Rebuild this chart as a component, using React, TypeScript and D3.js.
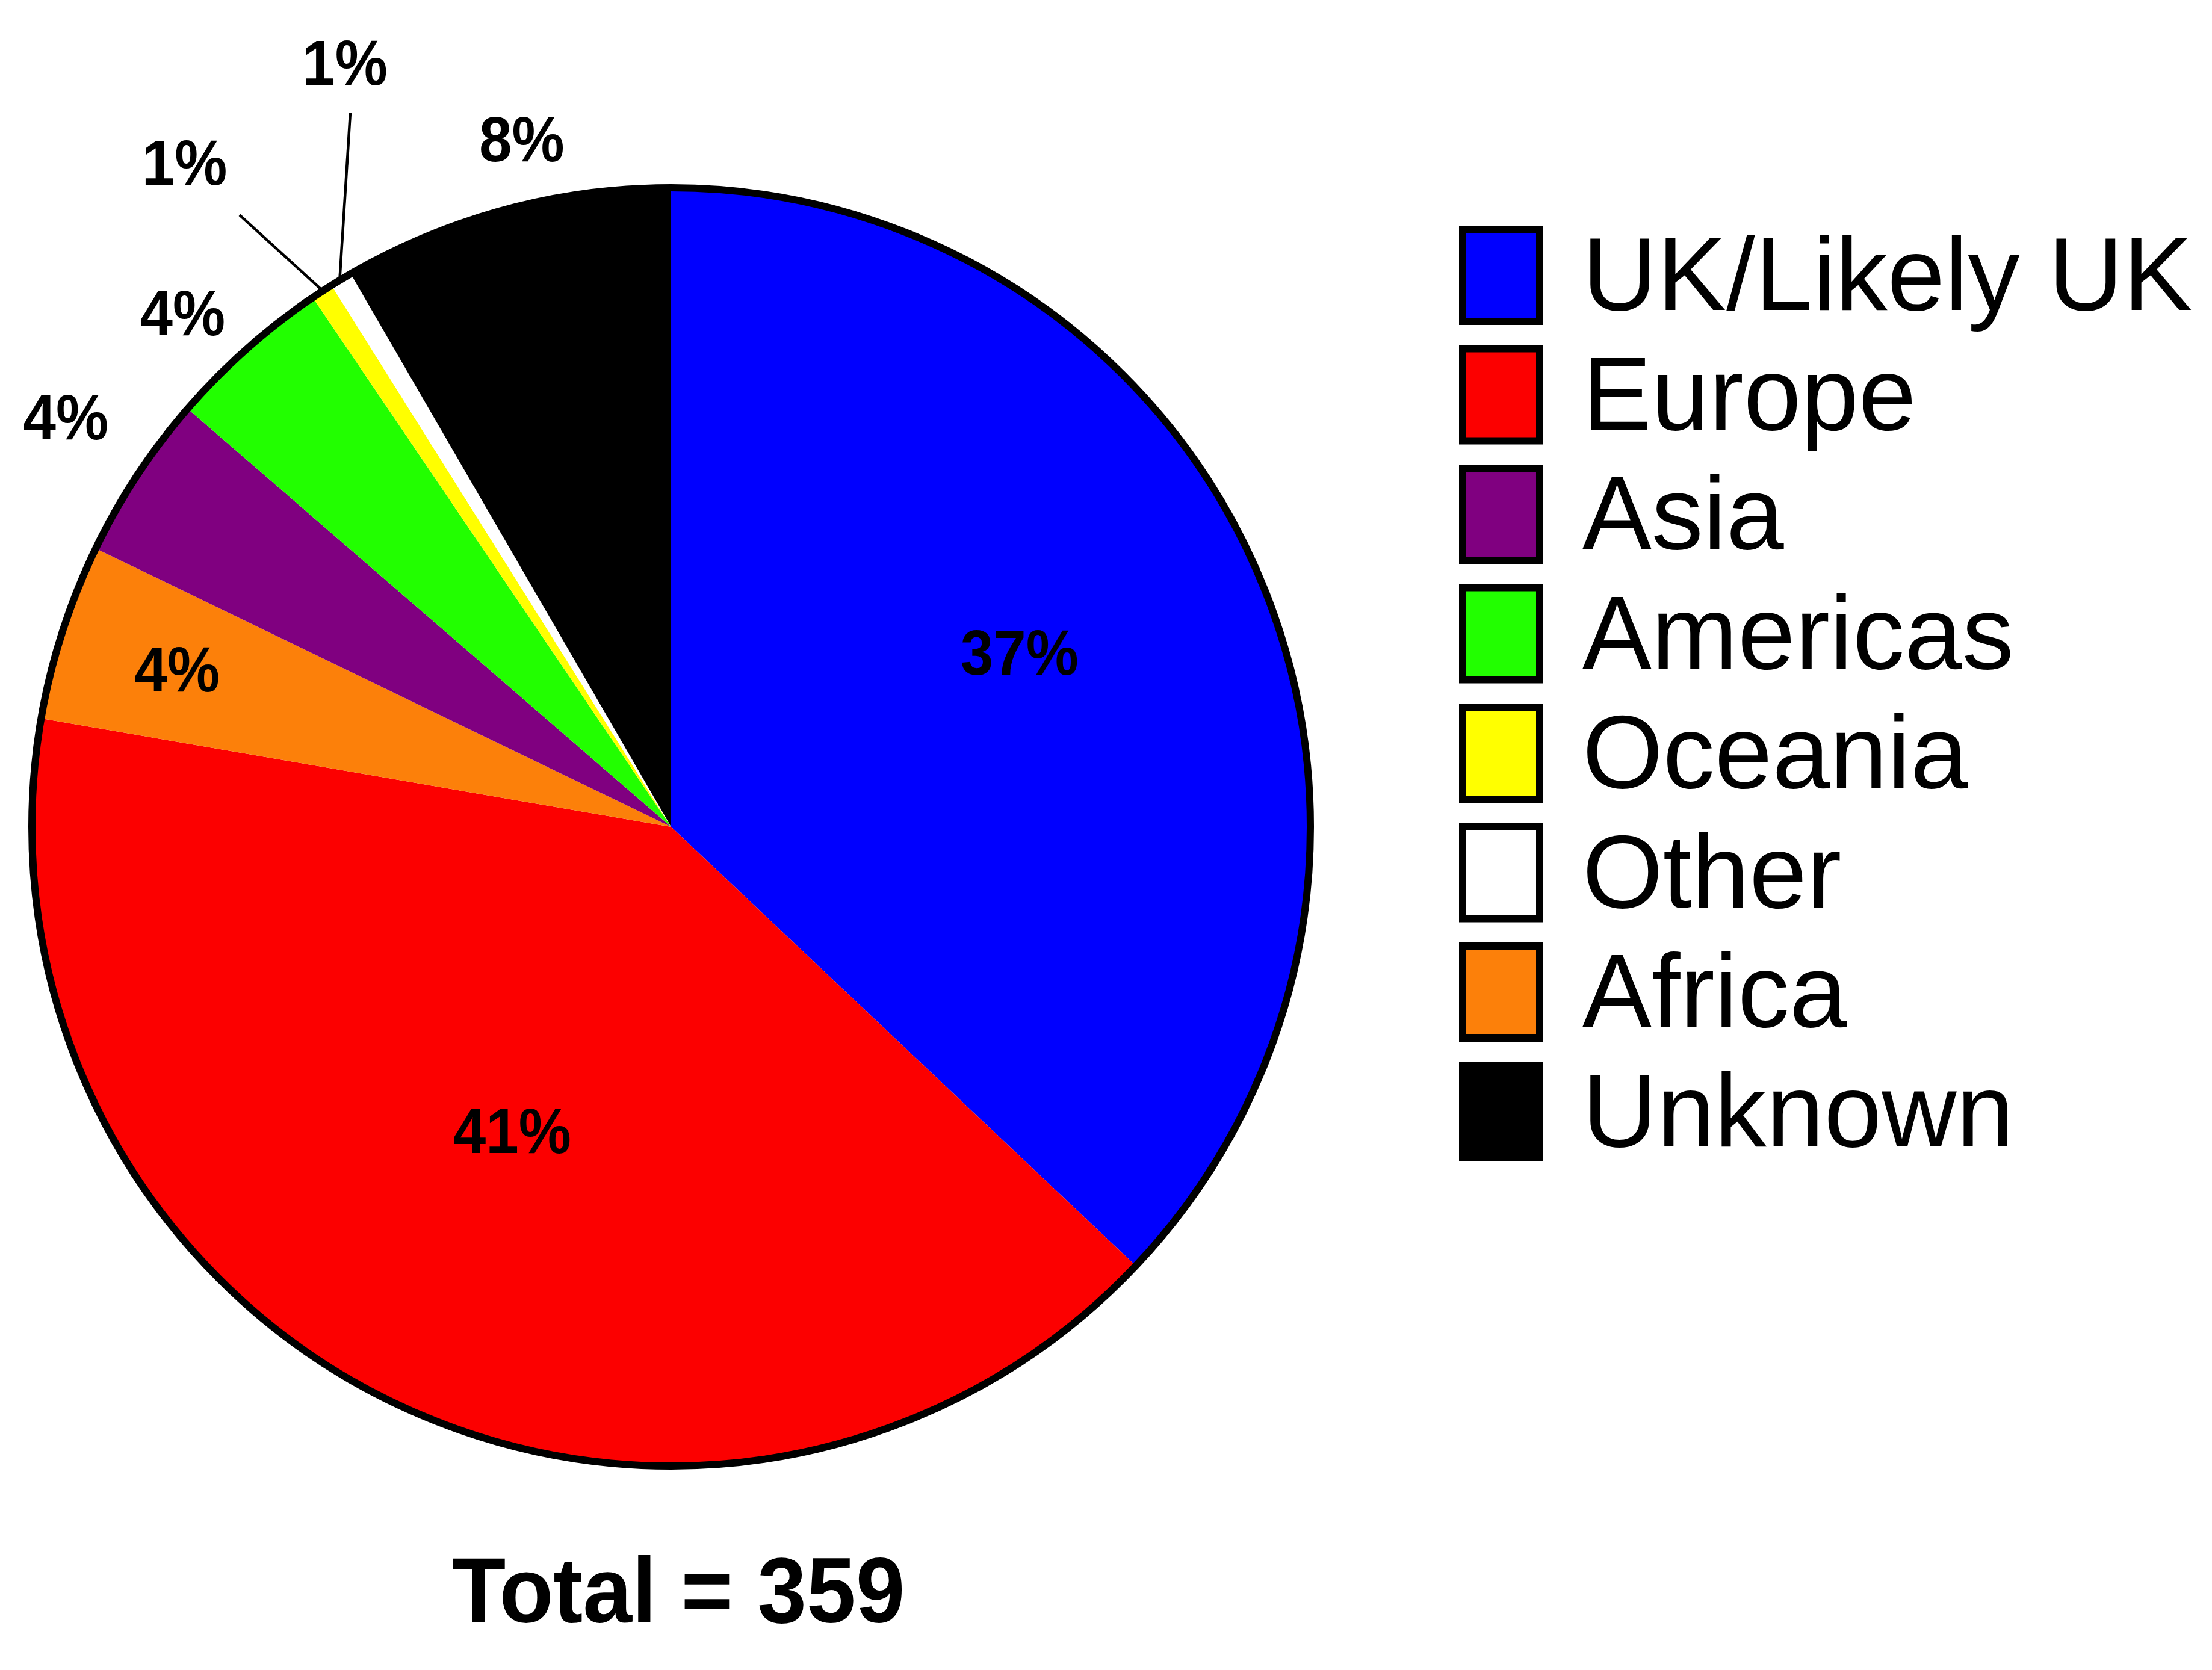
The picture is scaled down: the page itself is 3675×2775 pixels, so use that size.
import React from "react";
import * as d3 from "d3";

const sliceNames = ["UK/Likely UK", "Europe", "Africa", "Asia", "Americas", "Oceania", "Other", "Unknown"];
const sliceCounts = [133, 146, 16, 15, 15, 2, 2, 30];
const sliceColors = ["#0000FF", "#FC0000", "#FC800A", "#800080", "#22FF00", "#FFFF00", "#FFFFFF", "#000000"];
const legendOrder = ["UK/Likely UK", "Europe", "Asia", "Americas", "Oceania", "Other", "Africa", "Unknown"];
const totalLabel = "Total = 359";

// label placement: radius and angle offset (degrees) from slice mid angle
const labelRadius = [648, 569, 862, 1215, 1179, 1369, 1382, 1171];
const labelAngleOffset = [-3.4, 1.1, 0, 0.8, -1.9, -3.1, 8.0, 2.8];
// leader lines: [startRadius, endRadius, endAngleOffset] or null
const leaders: ([number, number, number] | null)[] = [null, null, null, null, null, [1068, 1244, -2.1], [1066, 1301, 6.9], null];

const W = 3675;
const H = 2775;
const cx = 1115;
const cy = 1374;
const R = 1062;

export default function App() {
  const total = d3.sum(sliceCounts);
  const data = sliceNames.map((n, i) => ({ name: n, count: sliceCounts[i], color: sliceColors[i], i }));
  const pie = d3.pie<any>().sort(null).value((d: any) => d.count).startAngle(0).endAngle(2 * Math.PI);
  const arcs = pie(data);
  const arc = d3.arc<any>().innerRadius(0).outerRadius(R);
  const polar = (r: number, a: number) => [Math.sin(a) * r, -Math.cos(a) * r];
  const fmt = (v: number) => `${Math.round((v / total) * 100)}%`;
  const colorOf = (n: string) => sliceColors[sliceNames.indexOf(n)];

  return (
    <svg
      width={W}
      height={H}
      style={{ display: "block", background: "#fff", position: "absolute", left: 0, top: 0 }}
      fontFamily="'Liberation Sans', Arial, sans-serif"
    >
      <g transform={`translate(${cx},${cy})`}>
        {arcs.map((a, k) => (
          <path key={k} d={arc(a) as string} fill={a.data.color} stroke="none" />
        ))}
        <circle r={R} fill="none" stroke="#000" strokeWidth={12} />
        {arcs.map((a, k) => {
          const mid = (a.startAngle + a.endAngle) / 2;
          const ang = mid + (labelAngleOffset[k] * Math.PI) / 180;
          const [x, y] = polar(labelRadius[k], ang);
          const ld = leaders[k];
          let line = null;
          if (ld) {
            const [x1, y1] = polar(ld[0], mid);
            const [x2, y2] = polar(ld[1], mid + (ld[2] * Math.PI) / 180);
            line = <line x1={x1} y1={y1} x2={x2} y2={y2} stroke="#000" strokeWidth={4.5} />;
          }
          return (
            <g key={"l" + k}>
              {line}
              <g transform={`translate(${x},${y}) scale(1,1.08)`}>
                <text textAnchor="middle" dy="0.36em" fontSize={98} fontWeight="bold" fill="#000">
                  {fmt(a.data.count)}
                </text>
              </g>
            </g>
          );
        })}
      </g>
      {legendOrder.map((n, i) => (
        <g key={n} transform={`translate(2430,${381 + i * 198.5})`}>
          <rect x={0} y={0} width={128} height={153} fill={colorOf(n)} stroke="#000" strokeWidth={12} />
          <text x={199} y={134} fontSize={172} fill="#000">{n}</text>
        </g>
      ))}
      <g transform={`translate(1127,2696) scale(1,1.045)`}>
        <text textAnchor="middle" fontSize={147} fontWeight="bold" fill="#000">{totalLabel}</text>
      </g>
    </svg>
  );
}
